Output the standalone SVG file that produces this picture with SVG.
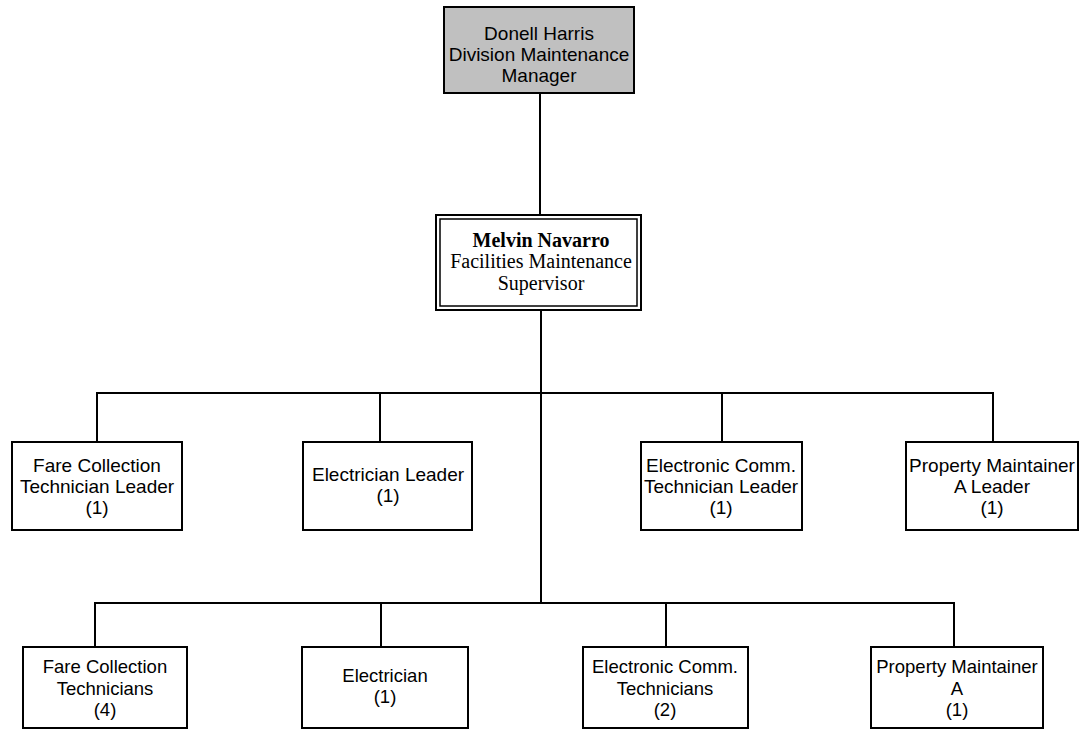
<svg xmlns="http://www.w3.org/2000/svg" width="1080" height="730" viewBox="0 0 1080 730">
<style>
.box{fill:#fff;stroke:#000;stroke-width:2}
.t{font-family:"Liberation Sans",Arial,sans-serif;font-size:19px;fill:#000;text-anchor:middle}
.t2{font-family:"Liberation Sans",Arial,sans-serif;font-size:18.5px;fill:#000;text-anchor:middle}
.s{font-family:"Liberation Serif","Times New Roman",serif;font-size:20px;fill:#000;text-anchor:middle}
.ln{fill:none;stroke:#000;stroke-width:2}
</style>
<rect width="1080" height="730" fill="#fff"/>
<g id="connectors">
<path class="ln" d="M540,93 V215"/>
<path class="ln" d="M541,310 V603"/>
<path class="ln" d="M97,441 V393 H993 V441"/>
<path class="ln" d="M380,393 V441"/>
<path class="ln" d="M722,393 V441"/>
<path class="ln" d="M95,647 V603 H954 V647"/>
<path class="ln" d="M381,603 V647"/>
<path class="ln" d="M666,603 V647"/>
</g>
<g id="manager">
<rect x="444" y="7" width="190" height="86" fill="#c0c0c0" stroke="#000" stroke-width="2"/>
<text class="t" x="539" y="40">Donell Harris</text>
<text class="t" x="539" y="61">Division Maintenance</text>
<text class="t" x="539" y="82">Manager</text>
</g>
<g id="supervisor">
<rect x="436" y="215" width="205" height="95" class="box"/>
<rect x="440" y="219" width="197" height="87" fill="none" stroke="#000" stroke-width="1.5"/>
<text class="s" x="541" y="247" font-weight="bold">Melvin Navarro</text>
<text class="s" x="541" y="268">Facilities Maintenance</text>
<text class="s" x="541" y="290">Supervisor</text>
</g>
<g id="fc-leader">
<rect x="12" y="442" width="170" height="88" class="box"/>
<text class="t" x="97" y="472">Fare Collection</text>
<text class="t" x="97" y="493">Technician Leader</text>
<text class="t" x="97" y="514">(1)</text>
</g>
<g id="el-leader">
<rect x="303" y="442" width="169" height="88" class="box"/>
<text class="t" x="388" y="481">Electrician Leader</text>
<text class="t" x="388" y="502">(1)</text>
</g>
<g id="ec-leader">
<rect x="641" y="442" width="161" height="88" class="box"/>
<text class="t" x="721" y="472">Electronic Comm.</text>
<text class="t" x="721" y="493">Technician Leader</text>
<text class="t" x="721" y="514">(1)</text>
</g>
<g id="pm-leader">
<rect x="906" y="442" width="172" height="88" class="box"/>
<text class="t" x="992" y="472">Property Maintainer</text>
<text class="t" x="992" y="493">A Leader</text>
<text class="t" x="992" y="514">(1)</text>
</g>
<g id="fc-tech">
<rect x="23" y="647" width="164" height="81" class="box"/>
<text class="t2" x="105" y="673">Fare Collection</text>
<text class="t2" x="105" y="695">Technicians</text>
<text class="t2" x="105" y="716">(4)</text>
</g>
<g id="electrician">
<rect x="302" y="647" width="166" height="81" class="box"/>
<text class="t2" x="385" y="682">Electrician</text>
<text class="t2" x="385" y="703">(1)</text>
</g>
<g id="ec-tech">
<rect x="583" y="647" width="165" height="81" class="box"/>
<text class="t2" x="665" y="673">Electronic Comm.</text>
<text class="t2" x="665" y="695">Technicians</text>
<text class="t2" x="665" y="716">(2)</text>
</g>
<g id="pm">
<rect x="871" y="647" width="172" height="81" class="box"/>
<text class="t2" x="957" y="673">Property Maintainer</text>
<text class="t2" x="957" y="695">A</text>
<text class="t2" x="957" y="716">(1)</text>
</g>
</svg>
